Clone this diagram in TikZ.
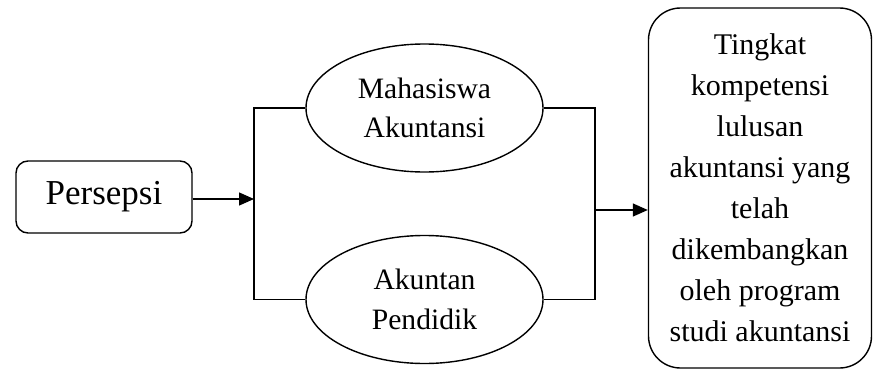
\documentclass[tikz,border=0pt]{standalone}
\usepackage{fontspec}
\setmainfont{Liberation Serif}
\usetikzlibrary{shapes.geometric,arrows.meta}
\tikzset{
  x=1pt,y=-1pt,
  line/.style={line width=1.4pt,draw=black},
  arr/.style={line,-{Triangle[length=15pt,width=13pt]}},
  ellbox/.style={line,ellipse,minimum width=237pt,minimum height=128pt,inner sep=0pt,align=center,
    font=\fontsize{29.6}{39.5}\selectfont},
  pbox/.style={line,rounded corners=12pt,minimum width=176pt,minimum height=72pt,inner sep=0pt,
    font=\fontsize{35}{40}\selectfont},
  rbox/.style={line,rounded corners=32pt,minimum width=223pt,minimum height=360pt,inner sep=0pt,align=center,
    font=\fontsize{30}{41}\selectfont}
}
\begin{document}
\begin{tikzpicture}
\useasboundingbox (0,0) rectangle (876,375);
\node[pbox] (p) at (104,197) {Persepsi};
\node[ellbox] (m) at (424.5,108) {Mahasiswa\\Akuntansi};
\node[ellbox] (a) at (424.5,299.5) {Akuntan\\Pendidik};
\node[rbox] (t) at (760,188) {Tingkat\\kompetensi\\lulusan\\akuntansi yang\\telah\\dikembangkan\\oleh program\\studi akuntansi};
\coordinate (lt) at (254,108);
\coordinate (lb) at (254,299.5);
\coordinate (lm) at (254,199);
\coordinate (rt) at (595,108);
\coordinate (rb) at (595,299.5);
\coordinate (rm) at (595,210);
\draw[arr] (p.east |- lm) -- (lm);
\draw[line] (m.west) -- (lt) -- (lb) -- (a.west);
\draw[line] (m.east) -- (rt) -- (rb) -- (a.east);
\draw[arr] (rm) -- (rm -| t.west);
\end{tikzpicture}
\end{document}
